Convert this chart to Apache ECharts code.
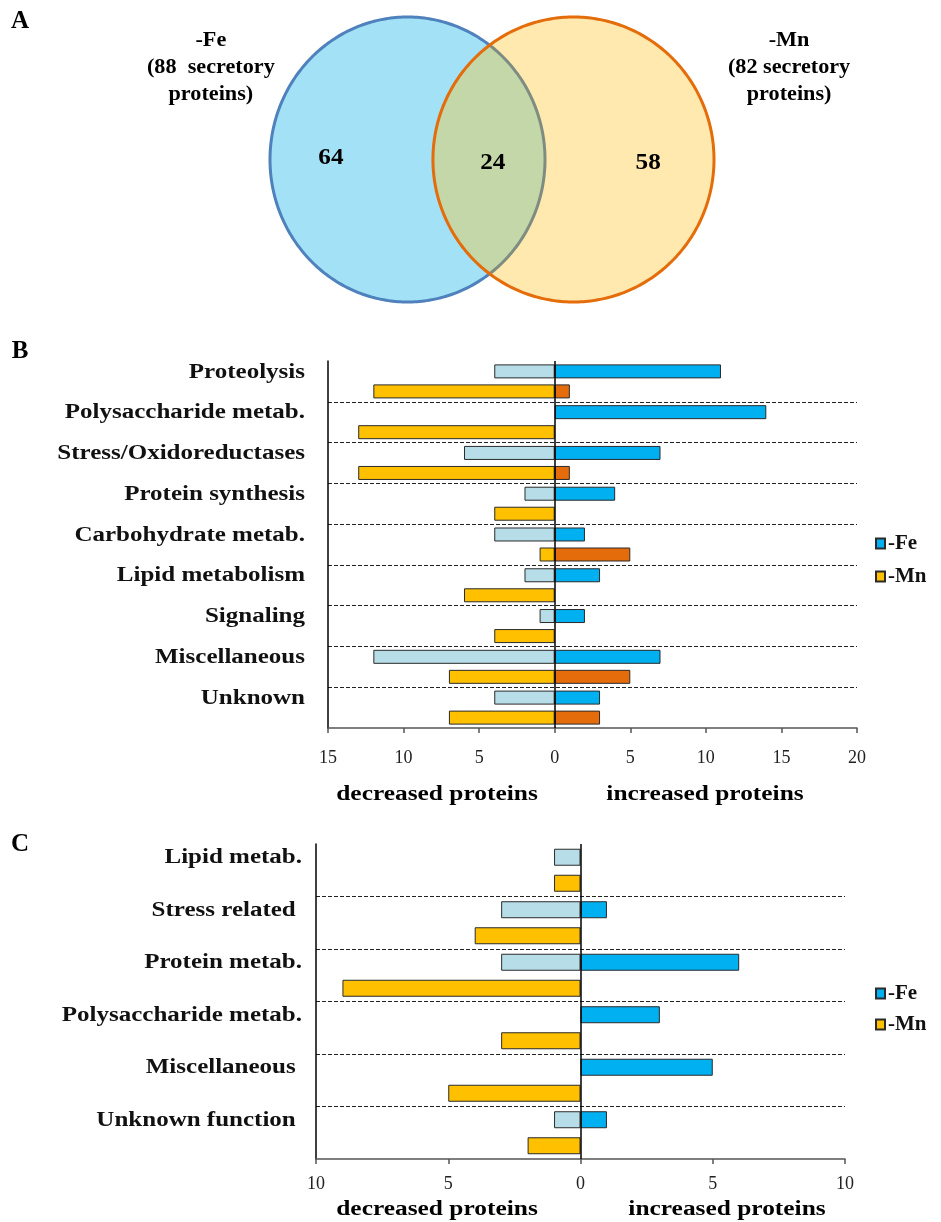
<!DOCTYPE html>
<html><head><meta charset="utf-8">
<script src="https://cdn.jsdelivr.net/npm/echarts@6/dist/echarts.min.js"></script>
<style>html,body{margin:0;padding:0;background:#fff}#c{width:941px;height:1222px}</style>
</head><body><div id="c"></div>
<script>
// ---------- Panel A: Venn ----------
const vennSets = ['-Fe', '-Mn'];
const vennTotals = [88, 82];
const vennRegions = [64, 24, 58]; // only -Fe, both, only -Mn

// ---------- Panel B ----------
const catsB = ['Proteolysis', 'Polysaccharide metab.', 'Stress/Oxidoreductases', 'Protein synthesis',
  'Carbohydrate metab.', 'Lipid metabolism', 'Signaling', 'Miscellaneous', 'Unknown'];
const feDecB = [4, 0, 6, 2, 4, 2, 1, 12, 4];
const feIncB = [11, 14, 7, 4, 2, 3, 2, 7, 3];
const mnDecB = [12, 13, 13, 4, 1, 6, 4, 7, 7];
const mnIncB = [1, 0, 1, 0, 5, 0, 0, 5, 3];

// ---------- Panel C ----------
const catsC = ['Lipid metab.', 'Stress related ', 'Protein metab.', 'Polysaccharide metab.',
  'Miscellaneous ', 'Unknown function '];
const feDecC = [1, 3, 3, 0, 0, 1];
const feIncC = [0, 1, 6, 3, 5, 1];
const mnDecC = [1, 4, 9, 3, 5, 2];
const mnIncC = [0, 0, 0, 0, 0, 0];

const axisTitles = ['decreased proteins', 'increased proteins'];
const panelLetters = ['A', 'B', 'C'];

const SERIF = "'Liberation Serif', 'Times New Roman', serif";
const C_FE_DEC = '#B7DEE8', C_FE_INC = '#00B0F0', C_MN_DEC = '#FFC000', C_MN_INC = '#E46C0A';
const STRETCH = 1.25;

const neg = a => a.map(v => v === 0 ? '-' : -v);
const pos = a => a.map(v => v === 0 ? '-' : v);

function renderVenn(params, api) {
  const L = {cx: 1, rx: 1, ry: 1}, R = {cx: 2.207, rx: 1.022, ry: 1};
  const N = 360;
  const pt = (e, t) => [e.cx + e.rx * Math.cos(t), e.ry * Math.sin(t)];
  const inside = (e, p) => Math.pow((p[0] - e.cx) / e.rx, 2) + Math.pow(p[1] / e.ry, 2) <= 1.0000001;
  const full = e => { const a = []; for (let i = 0; i < N; i++) a.push(api.coord(pt(e, i / N * 2 * Math.PI))); return a; };
  const lArc = [], rArc = [];
  for (let i = 0; i <= N; i++) { const p = pt(L, -Math.PI + i / N * 2 * Math.PI); if (inside(R, p)) lArc.push(api.coord(p)); }
  for (let i = 0; i <= N; i++) { const p = pt(R, i / N * 2 * Math.PI); if (inside(L, p)) rArc.push(api.coord(p)); }
  const numPos = [[0.443, 0.012], [1.62, -0.02], [2.75, -0.02]];
  const txt = (p, text, size, lh, sx) => {
    const c = api.coord(p);
    return {type: 'text', x: c[0], y: c[1], z2: 10, scaleX: sx || 1, style: {text: text, fill: '#000',
      font: 'bold ' + size + 'px ' + SERIF, align: 'center', verticalAlign: 'middle', lineHeight: lh || size}};
  };
  return {
    type: 'group',
    children: [
      {type: 'polygon', shape: {points: full(L)}, style: {fill: '#A3E1F7', stroke: '#4F81BD', lineWidth: 3}},
      {type: 'polygon', shape: {points: full(R)}, style: {fill: '#FFE9AE', stroke: null}},
      {type: 'polygon', shape: {points: lArc.concat(rArc)}, style: {fill: '#C3D7A8', stroke: null}},
      {type: 'polyline', shape: {points: lArc}, style: {fill: null, stroke: '#7F8C82', lineWidth: 3}},
      {type: 'polygon', shape: {points: full(R)}, style: {fill: null, stroke: '#E46C0A', lineWidth: 3}},
      txt(numPos[0], String(vennRegions[0]), 24, 24, 1.05),
      txt(numPos[1], String(vennRegions[1]), 24, 24, 1.05),
      txt(numPos[2], String(vennRegions[2]), 24, 24, 1.05),
      txt([-0.430, 0.642], vennSets[0] + '\n(' + vennTotals[0] + '  secretory\nproteins)', 20, 27, 1.11),
      txt([3.775, 0.642], vennSets[1] + '\n(' + vennTotals[1] + ' secretory\nproteins)', 20, 27, 1.11)
    ]
  };
}

function valueX(gridIndex, min, max, margin) {
  return {
    gridIndex: gridIndex, type: 'value', min: min, max: max, interval: 5,
    axisLine: {show: true, onZero: false, lineStyle: {color: '#555', width: 1.5}},
    axisTick: {show: true, length: 5, lineStyle: {color: '#555', width: 1.5}},
    splitLine: {show: false},
    axisLabel: {formatter: v => String(Math.abs(v)), fontFamily: SERIF, fontSize: 18, color: '#222', margin: margin}
  };
}
function catY(gridIndex, cats) {
  return {
    gridIndex: gridIndex, type: 'category', data: cats, inverse: true,
    axisLine: {show: true, onZero: false, lineStyle: {color: '#000', width: 1.5}},
    axisTick: {show: false},
    splitLine: {show: true, showMinLine: false, showMaxLine: false,
      lineStyle: {type: [4, 2], color: '#222', width: 1.2}},
    axisLabel: {show: false}
  };
}
// category names drawn at the axis' own category positions (stretched serif like the original)
function catLabels(ax, cats, xmin, margin, shift) {
  return {
    type: 'custom', coordinateSystem: 'cartesian2d', xAxisIndex: ax, yAxisIndex: ax, clip: false, silent: true,
    data: cats.map((c, i) => [xmin, i]), encode: {x: 0, y: 1},
    renderItem: (params, api) => {
      const p = api.coord([api.value(0), api.value(1)]);
      return {type: 'text', x: p[0] - margin, y: p[1] - shift, scaleX: STRETCH,
        style: {text: cats[params.dataIndex], fill: '#111', font: 'bold 20px ' + SERIF,
          align: 'right', verticalAlign: 'middle'}};
    }
  };
}
const bs = (color) => ({color: color, borderColor: '#2a2a2a', borderWidth: 1});
function barSeries(ax, stack, name, data, color, width, gap, extra) {
  return Object.assign({
    name: name, type: 'bar', xAxisIndex: ax, yAxisIndex: ax, stack: stack, data: data,
    barWidth: width, barGap: gap, itemStyle: bs(color), emphasis: {disabled: true}
  }, extra || {});
}
const zeroLine = {silent: true, symbol: 'none', label: {show: false},
  lineStyle: {color: '#000', width: 1.5, type: 'solid'}, data: [{xAxis: 0}]};

const legendBase = {
  orient: 'vertical', left: 875, padding: 0, itemWidth: 9, itemHeight: 10, icon: 'rect',
  data: ['-Fe', '-Mn'], selectedMode: false,
  textStyle: {fontFamily: SERIF, fontWeight: 'bold', fontSize: 21, color: '#111', lineHeight: 21, padding: [0, 0, 0, -2]}
};

const gtext = (x, y, text, size, sx) => ({
  type: 'text', x: x, y: y, silent: true, scaleX: sx || 1,
  style: {text: text, fill: '#000', font: 'bold ' + size + 'px ' + SERIF,
    align: 'center', verticalAlign: 'middle'}
});

const option = {
  animation: false,
  backgroundColor: '#fff',
  grid: [
    {left: 270, top: 17, width: 444, height: 285},
    {left: 328, top: 361, width: 529, height: 367},
    {left: 316, top: 844, width: 529, height: 315}
  ],
  xAxis: [
    {gridIndex: 0, type: 'value', min: 0, max: 3.229, show: false},
    valueX(1, -15, 20, 21),
    valueX(2, -10, 10, 16)
  ],
  yAxis: [
    {gridIndex: 0, type: 'value', min: -1, max: 1, show: false},
    catY(1, catsB),
    catY(2, catsC)
  ],
  legend: [
    Object.assign({}, legendBase, {top: 533, itemGap: 12}),
    Object.assign({}, legendBase, {top: 983, itemGap: 10})
  ],
  graphic: [
    gtext(20, 22, panelLetters[0], 25),
    gtext(20, 352, panelLetters[1], 25),
    gtext(20, 845, panelLetters[2], 25),
    gtext(437, 795, axisTitles[0], 20, 1.27),
    gtext(705, 795, axisTitles[1], 20, 1.27),
    gtext(437, 1210, axisTitles[0], 20, 1.27),
    gtext(727, 1210, axisTitles[1], 20, 1.27)
  ],
  series: [
    {type: 'custom', coordinateSystem: 'cartesian2d', xAxisIndex: 0, yAxisIndex: 0, clip: false,
      silent: true, data: [[0, 0]], renderItem: renderVenn},
    barSeries(1, 'feB', '-Fe decreased', neg(feDecB), C_FE_DEC, 14, '43%'),
    barSeries(1, 'feB', '-Fe', pos(feIncB), C_FE_INC, 14, '43%', {markLine: zeroLine}),
    barSeries(1, 'mnB', '-Mn', neg(mnDecB), C_MN_DEC, 14, '43%'),
    barSeries(1, 'mnB', '-Mn increased', pos(mnIncB), C_MN_INC, 14, '43%'),
    catLabels(1, catsB, -15, 23, 9),
    barSeries(2, 'feC', '-Fe decreased', neg(feDecC), C_FE_DEC, 17, '53%'),
    barSeries(2, 'feC', '-Fe', pos(feIncC), C_FE_INC, 17, '53%', {markLine: zeroLine}),
    barSeries(2, 'mnC', '-Mn', neg(mnDecC), C_MN_DEC, 17, '53%'),
    barSeries(2, 'mnC', '-Mn increased', pos(mnIncC), C_MN_INC, 17, '53%'),
    catLabels(2, catsC, -10, 14, 12)
  ]
};

const chart = echarts.init(document.getElementById('c'), null, {renderer: 'canvas'});
chart.setOption(option);
</script>
</body></html>
